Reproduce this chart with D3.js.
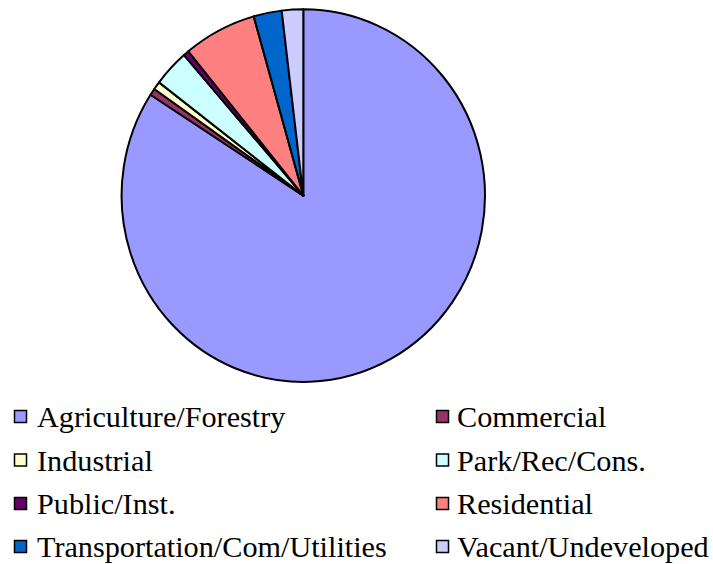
<!DOCTYPE html>
<html>
<head>
<meta charset="utf-8">
<script src="https://cdn.jsdelivr.net/npm/d3@7/dist/d3.min.js"></script>
<style>
  html, body { margin: 0; padding: 0; background: #fff; }
  svg { display: block; }
</style>
</head>
<body>
<svg id="chart" width="713" height="564"></svg>
<script>
// Land use shares (percent of total area)
const categories = [
  "Agriculture/Forestry", "Commercial", "Industrial", "Park/Rec/Cons.",
  "Public/Inst.", "Residential", "Transportation/Com/Utilities", "Vacant/Undeveloped"
];
const shares = [84.1, 0.6, 0.7, 3.2, 0.5, 6.5, 2.5, 1.9];
const colors = ["#9999FF", "#993366", "#FFFFCC", "#CCFFFF", "#660066", "#FF8080", "#0066CC", "#CCCCFF"];

const data = categories.map((c, i) => ({ name: c, value: shares[i] }));

const svg = d3.select("#chart");

// Pie geometry (drawn slightly taller than wide)
const cx = 303.3, cy = 195.6, rx = 181.7, ry = 186.3;

const pie = d3.pie().sort(null).value(d => d.value);
const arc = d3.arc().innerRadius(0).outerRadius(rx);
const color = d3.scaleOrdinal().domain(categories).range(colors);

const g = svg.append("g")
  .attr("transform", `translate(${cx},${cy}) scale(1,${ry / rx})`);

g.selectAll("path")
  .data(pie(data))
  .join("path")
  .attr("d", arc)
  .attr("fill", d => color(d.data.name))
  .attr("stroke", "#000")
  .attr("stroke-width", 2)
  .attr("stroke-linejoin", "round")
  .attr("vector-effect", "non-scaling-stroke");

// Legend: two columns, four rows
const font = "'Liberation Serif', 'DejaVu Serif', serif";
const colText = [37, 457];
const colBox = [14, 436];
const baselines = [427, 470.5, 514, 557];

// size the type so the longest label spans its column
const probe = svg.append("text").attr("font-family", font).attr("font-size", 100)
  .text(categories[6]);
const fs = 100 * 350 / probe.node().getComputedTextLength();
probe.remove();

const legend = svg.append("g");
data.forEach((d, i) => {
  const col = i % 2, row = Math.floor(i / 2);
  const y = baselines[row];
  legend.append("rect")
    .attr("x", colBox[col] + 0.5).attr("y", y - 16.5)
    .attr("width", 12).attr("height", 12)
    .attr("fill", color(d.name))
    .attr("stroke", "#000").attr("stroke-width", 1.5);
  legend.append("text")
    .attr("x", colText[col]).attr("y", y)
    .attr("font-family", font).attr("font-size", fs)
    .attr("fill", "#000")
    .text(d.name);
});
</script>
</body>
</html>
